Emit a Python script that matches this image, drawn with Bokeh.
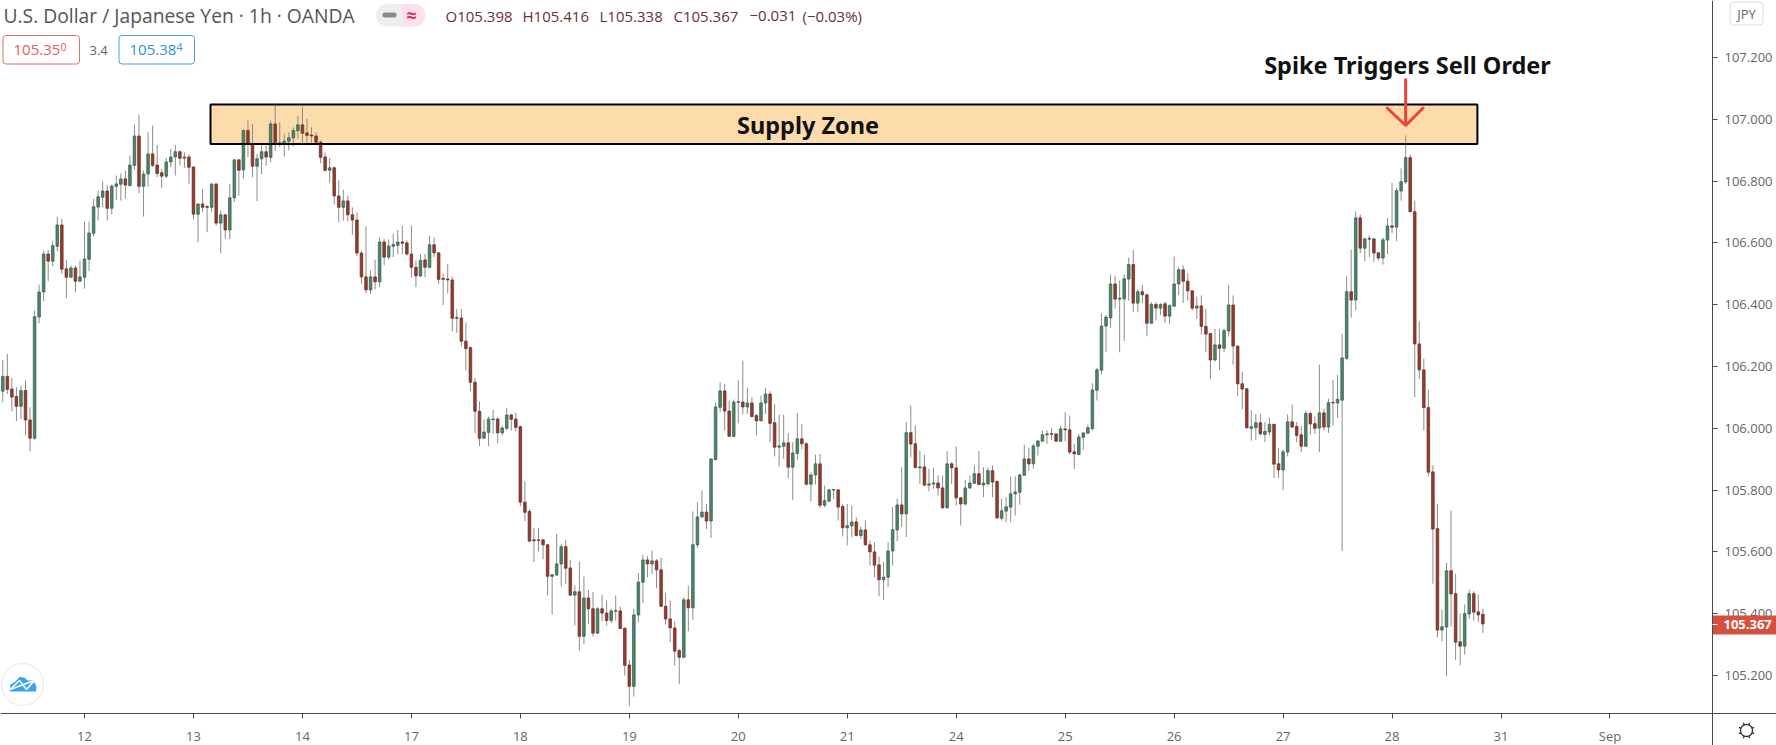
from math import cos, sin, pi
from bokeh.plotting import figure
from bokeh.embed import file_html
from bokeh.resources import INLINE
from bokeh.models import (ColumnDataSource, Range1d, LinearAxis, FixedTicker, Label,
                          BoxAnnotation, PolyAnnotation)

opens = [106.120,106.168,106.127,106.103,106.071,106.122,106.027,105.968,106.360,106.441,
106.564,106.541,106.589,106.658,106.516,106.489,106.519,106.476,106.489,106.547,
106.631,106.716,106.748,106.768,106.712,106.783,106.790,106.807,106.786,106.851,
106.946,106.783,106.823,106.888,106.852,106.827,106.816,106.862,106.878,106.895,
106.874,106.878,106.846,106.693,106.726,106.718,106.715,106.791,106.664,106.691,
106.642,106.746,106.869,106.836,106.964,106.920,106.848,106.872,106.895,106.877,
106.985,106.918,106.920,106.929,106.940,106.963,106.982,106.956,106.949,106.946,
106.926,106.878,106.835,106.843,106.752,106.715,106.736,106.691,106.674,106.567,
106.490,106.448,106.490,106.474,106.603,106.554,106.589,106.592,106.603,106.600,
106.564,106.521,106.493,106.545,106.521,106.594,106.568,106.485,106.483,106.480,
106.358,106.357,106.282,106.261,106.149,106.055,105.968,105.987,106.028,106.030,
105.985,106.000,106.043,106.030,106.005,105.761,105.731,105.639,105.639,105.639,
105.623,105.521,105.525,105.561,105.617,105.548,105.460,105.471,105.327,105.451,
105.416,105.337,105.416,105.402,105.378,105.408,105.409,105.353,105.234,105.165,
105.396,105.502,105.574,105.561,105.571,105.542,105.424,105.383,105.354,105.281,
105.259,105.445,105.419,105.623,105.713,105.729,105.700,105.899,106.068,106.121,
106.056,105.974,106.084,106.085,106.069,106.082,106.041,106.024,106.082,106.111,
106.018,105.939,105.942,105.953,105.874,105.919,105.966,105.950,105.819,105.849,
105.885,105.751,105.764,105.800,105.801,105.747,105.678,105.684,105.697,105.653,
105.671,105.623,105.600,105.558,105.510,105.518,105.603,105.671,105.752,105.723,
105.986,105.950,105.872,105.875,105.816,105.820,105.823,105.807,105.743,105.885,
105.872,105.775,105.755,105.807,105.822,105.853,105.817,105.820,105.863,105.828,
105.709,105.732,105.745,105.788,105.793,105.848,105.901,105.885,105.942,105.958,
105.979,105.980,105.982,105.958,105.998,105.995,105.924,105.915,105.971,105.984,
105.999,106.123,106.188,106.331,106.357,106.467,106.418,106.419,106.483,106.530,
106.405,106.442,106.432,106.340,106.401,106.389,106.403,106.363,106.395,106.467,
106.513,106.476,106.445,106.389,106.396,106.330,106.307,106.221,106.270,106.259,
106.315,106.399,106.266,106.144,106.128,106.000,106.002,106.018,105.980,105.988,
106.013,105.885,105.865,105.923,106.021,106.006,105.979,105.942,106.048,106.015,
106.001,106.050,106.004,106.084,106.082,106.091,106.226,106.442,106.415,106.681,
106.583,106.612,106.613,106.568,106.551,106.609,106.655,106.651,106.768,106.797,
106.876,106.701,106.273,106.189,106.067,105.859,105.675,105.347,105.357,105.539,
105.465,105.309,105.295,105.399,105.465,105.406,105.398]

closes = [106.168,106.126,106.101,106.071,106.122,106.027,105.968,106.361,106.441,106.564,
106.541,106.591,106.658,106.515,106.489,106.519,106.476,106.490,106.548,106.632,
106.717,106.749,106.768,106.712,106.784,106.791,106.807,106.787,106.852,106.946,
106.783,106.823,106.888,106.851,106.825,106.816,106.862,106.878,106.895,106.874,
106.878,106.845,106.693,106.726,106.715,106.715,106.791,106.664,106.691,106.642,
106.746,106.869,106.835,106.964,106.920,106.848,106.872,106.895,106.878,106.985,
106.920,106.924,106.929,106.940,106.964,106.982,106.955,106.948,106.946,106.926,
106.877,106.835,106.843,106.752,106.715,106.736,106.691,106.674,106.567,106.490,
106.448,106.490,106.474,106.603,106.554,106.590,106.595,106.603,106.599,106.564,
106.521,106.493,106.543,106.521,106.594,106.568,106.482,106.482,106.480,106.356,
106.356,106.282,106.258,106.149,106.055,105.968,105.988,106.030,106.030,105.985,
106.001,106.043,106.029,106.003,105.761,105.728,105.635,105.636,105.637,105.623,
105.521,105.526,105.561,105.617,105.547,105.460,105.471,105.327,105.451,105.416,
105.337,105.416,105.402,105.378,105.409,105.410,105.352,105.233,105.165,105.396,
105.502,105.574,105.561,105.571,105.542,105.424,105.383,105.354,105.279,105.259,
105.445,105.419,105.623,105.713,105.729,105.700,105.901,106.069,106.121,106.056,
105.974,106.085,106.086,106.069,106.082,106.038,106.024,106.082,106.111,106.016,
105.939,105.943,105.953,105.874,105.920,105.966,105.950,105.819,105.849,105.885,
105.751,105.766,105.801,105.802,105.745,105.678,105.685,105.697,105.653,105.671,
105.623,105.600,105.557,105.510,105.518,105.603,105.672,105.752,105.723,105.986,
105.949,105.873,105.875,105.816,105.820,105.823,105.807,105.743,105.885,105.872,
105.775,105.755,105.807,105.823,105.853,105.818,105.823,105.863,105.826,105.710,
105.733,105.746,105.788,105.794,105.849,105.901,105.885,105.943,105.959,105.979,
105.982,105.983,105.958,105.998,105.995,105.923,105.917,105.972,105.985,106.002,
106.124,106.189,106.331,106.360,106.467,106.418,106.421,106.484,106.530,106.405,
106.442,106.432,106.340,106.401,106.389,106.401,106.363,106.397,106.467,106.513,
106.476,106.445,106.389,106.396,106.330,106.305,106.221,106.270,106.259,106.316,
106.399,106.266,106.144,106.127,106.002,106.005,106.018,105.982,105.990,106.013,
105.884,105.865,105.924,106.021,106.004,105.977,105.942,106.048,106.014,106.000,
106.050,106.004,106.083,106.082,106.094,106.228,106.442,106.415,106.681,106.583,
106.613,106.615,106.567,106.551,106.610,106.655,106.651,106.769,106.798,106.876,
106.701,106.273,106.189,106.067,105.858,105.674,105.347,105.358,105.539,105.464,
105.308,105.295,105.400,105.465,105.405,105.396,105.367]

highs = [106.221,106.241,106.163,106.133,106.138,106.155,106.068,106.381,106.465,106.575,
106.577,106.608,106.685,106.678,106.546,106.527,106.527,106.543,106.669,106.669,
106.742,106.769,106.799,106.788,106.789,106.818,106.825,106.834,106.883,106.983,
107.015,106.834,106.958,106.980,106.917,106.840,106.875,106.904,106.917,106.899,
106.893,106.886,106.846,106.728,106.775,106.721,106.791,106.791,106.705,106.691,
106.791,106.869,106.869,106.969,106.996,106.985,106.888,106.920,106.915,106.996,
107.050,106.991,106.953,106.958,106.974,107.012,107.041,107.001,106.974,106.958,
106.931,106.893,106.875,106.847,106.802,106.772,106.753,106.715,106.699,106.575,
106.653,106.511,106.546,106.618,106.613,106.611,106.629,106.642,106.656,106.608,
106.656,106.543,106.564,106.564,106.624,106.618,106.568,106.500,106.532,106.491,
106.386,106.386,106.342,106.265,106.163,106.087,106.027,106.038,106.060,106.036,
106.009,106.066,106.047,106.050,106.009,105.828,105.739,105.678,105.678,105.642,
105.626,105.529,105.658,105.626,105.639,105.574,105.491,105.569,105.520,105.477,
105.470,105.421,105.461,105.443,105.416,105.459,105.423,105.356,105.251,105.416,
105.531,105.590,105.586,105.604,105.577,105.581,105.467,105.443,105.375,105.286,
105.453,105.491,105.731,105.761,105.799,105.755,105.901,106.084,106.149,106.144,
106.090,106.093,106.155,106.219,106.131,106.101,106.047,106.106,106.131,106.120,
106.079,106.044,106.044,105.985,105.955,106.050,106.014,105.955,105.858,105.915,
105.917,105.815,105.804,105.802,105.801,105.755,105.755,105.750,105.712,105.682,
105.702,105.637,105.631,105.585,105.567,105.631,105.745,105.772,105.874,106.020,
106.074,106.009,105.928,105.915,105.869,105.872,105.847,105.847,105.926,105.890,
105.941,105.777,105.833,105.847,105.880,105.926,105.874,105.872,105.880,105.831,
105.772,105.777,105.844,105.844,105.853,105.947,105.937,105.950,105.963,105.993,
105.993,106.001,105.982,106.009,106.052,106.041,105.950,105.982,105.987,106.012,
106.146,106.196,106.372,106.367,106.498,106.494,106.478,106.498,106.552,106.577,
106.451,106.464,106.435,106.408,106.408,106.405,106.410,106.401,106.556,106.521,
106.527,106.502,106.446,106.426,106.430,106.387,106.308,106.322,106.322,106.322,
106.464,106.430,106.268,106.183,106.130,106.058,106.045,106.047,106.020,106.034,
106.013,105.937,105.931,106.045,106.077,106.020,106.007,106.058,106.053,106.039,
106.206,106.063,106.096,106.157,106.173,106.306,106.492,106.578,106.702,106.692,
106.617,106.624,106.617,106.570,106.617,106.681,106.794,106.778,106.841,106.948,
106.886,106.737,106.346,106.225,106.125,105.880,105.756,105.414,105.565,105.734,
105.529,105.400,105.430,105.478,105.473,105.462,105.416]

lows = [106.084,106.111,106.055,106.023,106.030,105.977,105.926,105.963,106.340,106.411,
106.476,106.525,106.573,106.500,106.421,106.487,106.440,106.476,106.452,106.508,
106.621,106.672,106.715,106.672,106.692,106.739,106.737,106.744,106.782,106.837,
106.761,106.685,106.782,106.845,106.813,106.777,106.810,106.845,106.818,106.851,
106.843,106.791,106.676,106.602,106.699,106.635,106.699,106.656,106.567,106.613,
106.612,106.732,106.753,106.809,106.877,106.813,106.735,106.823,106.850,106.861,
106.897,106.910,106.879,106.899,106.912,106.937,106.918,106.918,106.920,106.918,
106.858,106.831,106.795,106.724,106.667,106.672,106.670,106.626,106.557,106.467,
106.437,106.435,106.449,106.457,106.528,106.547,106.554,106.564,106.564,106.559,
106.487,106.457,106.489,106.489,106.518,106.554,106.467,106.399,106.437,106.314,
106.309,106.265,106.187,106.120,105.984,105.942,105.965,105.942,105.982,105.952,
105.977,105.993,105.993,105.991,105.748,105.699,105.631,105.567,105.602,105.576,
105.459,105.397,105.523,105.488,105.497,105.457,105.362,105.281,105.302,105.367,
105.326,105.335,105.376,105.362,105.369,105.378,105.350,105.200,105.101,105.132,
105.372,105.434,105.518,105.529,105.482,105.421,105.365,105.308,105.232,105.173,
105.257,105.343,105.380,105.612,105.710,105.674,105.645,105.896,106.052,105.993,
105.973,105.971,106.016,106.047,106.047,106.036,105.977,106.023,106.047,105.955,
105.909,105.877,105.901,105.838,105.768,105.896,105.933,105.815,105.764,105.818,
105.742,105.745,105.763,105.772,105.701,105.650,105.621,105.648,105.650,105.642,
105.621,105.556,105.518,105.456,105.445,105.486,105.556,105.635,105.680,105.648,
105.906,105.872,105.820,105.814,105.796,105.804,105.782,105.739,105.739,105.820,
105.750,105.685,105.750,105.804,105.820,105.817,105.777,105.815,105.777,105.707,
105.702,105.696,105.696,105.718,105.753,105.847,105.863,105.869,105.912,105.958,
105.950,105.963,105.958,105.958,105.958,105.915,105.868,105.914,105.931,105.982,
105.993,106.090,106.174,106.246,106.325,106.387,106.246,106.282,106.413,106.376,
106.376,106.405,106.298,106.338,106.349,106.367,106.341,106.338,106.394,106.431,
106.405,106.413,106.381,106.354,106.303,106.246,106.160,106.217,106.189,106.246,
106.297,106.206,106.104,106.061,105.998,105.960,105.963,105.977,105.955,105.977,
105.839,105.839,105.800,105.909,106.002,105.955,105.923,105.941,105.980,105.982,
105.923,105.993,105.985,106.009,106.034,105.603,106.220,106.358,106.382,106.567,
106.541,106.554,106.538,106.543,106.530,106.563,106.632,106.606,106.737,106.791,
106.699,106.101,106.160,105.993,105.844,105.497,105.324,105.311,105.198,105.359,
105.251,105.233,105.268,105.383,105.378,105.373,105.338]

price_ticks = [105.2,105.4,105.6,105.8,106.0,106.2,106.4,106.6,106.8,107.0,107.2]
day_ticks = [18,42,66,90,114,138,162,186,210,234,258,282,306,330,354]
day_labels = ["12","13","14","17","18","19","20","21","24","25","26","27","28","31","Sep"]
zone_top, zone_bottom = 107.048, 106.920
zone_start, zone_end = 45.75, 324.8
spike_bar = 309
last_price = 105.367

W, H, AXX, AXY = 1776, 745, 1712, 713
UI = "Open Sans"
AX = "#4a4a4a"

x_at = lambda px: (px - 2.3) / 4.54
y_at = lambda py: 107.2 - (py - 57) / 309

p = figure(frame_width=W, frame_height=H, output_backend="svg", toolbar_location=None,
           x_range=Range1d(x_at(0), x_at(W)), y_range=Range1d(y_at(H), y_at(0)),
           x_axis_location=None, y_axis_location=None,
           min_border_left=0, min_border_top=0, min_border_right=0, min_border_bottom=0)
p.grid.visible = False
p.outline_line_color = None
p.background_fill_color = "white"
p.border_fill_color = "white"

ax_r = LinearAxis(ticker=FixedTicker(ticks=price_ticks), fixed_location=x_at(AXX),
                  major_label_overrides={t: f"{t:.3f}" for t in price_ticks})
ax_b = LinearAxis(ticker=FixedTicker(ticks=day_ticks), fixed_location=y_at(AXY),
                  major_label_overrides=dict(zip(day_ticks, day_labels)))
for a, st in ((ax_r, 7), (ax_b, 8)):
    a.axis_line_color = AX
    a.axis_line_width = 1
    a.major_tick_line_color = AX
    a.major_tick_out = 5
    a.major_tick_in = 0
    a.minor_tick_line_color = None
    a.major_label_text_color = "#666666"
    a.major_label_text_font = UI
    a.major_label_text_font_size = "13px"
    a.major_label_standoff = st
p.add_layout(ax_r, "right")
p.add_layout(ax_b, "below")

idx = list(range(len(opens)))
up = [c >= o for o, c in zip(opens, closes)]
src = ColumnDataSource(dict(
    x=idx, o=opens, h=highs, l=lows, c=closes,
    top=[max(o, c) for o, c in zip(opens, closes)],
    bot=[min(o, c) for o, c in zip(opens, closes)],
    fill=["#4f8468" if u else "#9a3a2e" for u in up],
    edge=["#2f5c47" if u else "#5e2b24" for u in up]))

p.quad(left=zone_start, right=zone_end, top=zone_top, bottom=zone_bottom,
       fill_color="#fddcab", line_color=None)
p.segment("x", "h", "x", "l", source=src, line_color="#8c8c8c", line_width=1)
p.vbar(x="x", width=0.58, top="top", bottom="bot", source=src,
       fill_color="fill", line_color="edge", line_width=0.7)
p.quad(left=zone_start, right=zone_end, top=zone_top, bottom=zone_bottom,
       fill_color=None, line_color="black", line_width=2)

arrow_x = [[spike_bar, spike_bar],
           [spike_bar - 4.25, spike_bar, spike_bar + 4.0]]
arrow_y = [[107.132, 106.980], [107.039, 106.980, 107.039]]
p.multi_line(arrow_x, arrow_y, line_color="#ef4136", line_width=3)

def lab(x, y, text, size, color, font=UI, style="normal", align="left"):
    p.add_layout(Label(x=x, y=y, x_units="canvas", y_units="canvas", text=text,
                       text_font=font, text_font_size=f"{size}px", text_color=color,
                       text_font_style=style, text_align=align, text_baseline="middle",
                       level="overlay"))

def box(l, r, t, b, fill, line=None, lw=1, radius=0):
    p.add_layout(BoxAnnotation(left=l, right=r, top=t, bottom=b, left_units="canvas",
                               right_units="canvas", top_units="canvas", bottom_units="canvas",
                               fill_color=fill, fill_alpha=1 if fill else 0,
                               line_color=line, line_width=lw, line_alpha=1 if line else 0,
                               border_radius=radius, level="annotation"))

def poly(xs, ys, fill=None, line=None, lw=1):
    p.add_layout(PolyAnnotation(xs=xs, ys=ys, xs_units="canvas", ys_units="canvas",
                                fill_color=fill, fill_alpha=1 if fill else 0,
                                line_color=line, line_width=lw, line_alpha=1 if line else 0))

lab(807.5, 124, "Supply Zone", 23.5, "#111111", font="Noto Sans", style="bold", align="center")
lab(1407, 64.5, "Spike Triggers Sell Order", 23.5, "#111111", font="Noto Sans", style="bold", align="center")

lab(3, 15, "U.S. Dollar / Japanese Yen · 1h · OANDA", 19.3, "#555555")
box(375.5, 401, 3.5, 26, "#eeeeef", radius=(11, 0, 0, 11))
box(401, 425, 3.5, 26, "#fde0ea", radius=(0, 11, 11, 0))
box(382, 396, 12, 17, "#8a8a8a", radius=2)
lab(411, 14, "≈", 18, "#d6336c", style="bold", align="center")
M = "#6b3038"
lab(445, 15, "O105.398", 15, M)
lab(522, 15, "H105.416", 15, M)
lab(599, 15, "L105.338", 15, M)
lab(673, 15, "C105.367", 15, M)
lab(749, 15, "−0.031", 15, M)
lab(802, 15, "(−0.03%)", 15, M)

box(2.5, 79, 35, 63.5, "white", line="#d9726b", radius=3)
lab(13, 49.5, "105.35", 15, "#e0605c")
lab(60, 46, "0", 10.5, "#e0605c")
lab(89, 49.5, "3.4", 13, "#666666")
box(118.5, 194, 35, 63.5, "white", line="#4a9fdc", radius=3)
lab(129, 49.5, "105.38", 15, "#2f93df")
lab(176, 46, "4", 10.5, "#2f93df")

box(1729.5, 1762.5, 1.5, 24.5, "white", line="#dddddd", radius=4)
lab(1746, 13, "JPY", 13, "#666666", align="center")
box(1712.5, 1776, 615, 634, "#d5513f")
poly([1712, 1717], [624, 624], line="white")
lab(1723, 624, f"{last_price:.3f}", 13, "white", style="bold")

n = 28
gx, gy = 1746, 730
poly([gx + 6 * cos(2 * pi * k / n) for k in range(n)],
     [gy + 6 * sin(2 * pi * k / n) for k in range(n)], line="#333333", lw=1.3)
for k in range(8):
    a = 2 * pi * (k + 0.5) / 8
    poly([gx + 6 * cos(a), gx + 8.3 * cos(a)], [gy + 6 * sin(a), gy + 8.3 * sin(a)], line="#333333", lw=1.3)

poly([22 + 21 * cos(2 * pi * k / 48) for k in range(48)],
     [684 + 21 * sin(2 * pi * k / 48) for k in range(48)], fill="white", line="#ececec", lw=1.2)
poly([9, 10, 15, 19, 24, 27, 33, 36, 35.5, 10],
     [690, 684, 681, 676.5, 677, 680, 680, 686, 691, 691], fill="#3aa3ee")
poly([9.5, 19, 26, 34], [689, 680, 689, 680], line="white", lw=1.7)

open("out.html", "w").write(file_html(p, INLINE))
